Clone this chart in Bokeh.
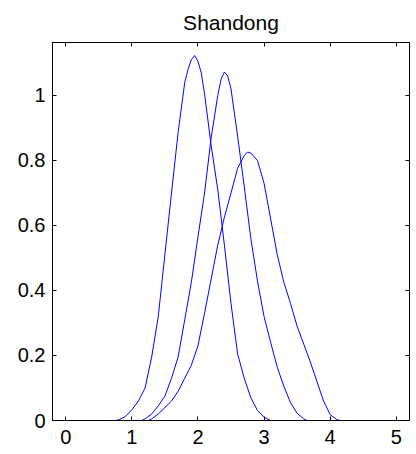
from bokeh.plotting import figure
from bokeh.models import LinearAxis, FixedTicker, Range1d
from bokeh.embed import file_html
from bokeh.resources import INLINE

# ---- data ----
title_text = "Shandong"

xa = [0.75, 0.8, 0.9, 1.0, 1.1, 1.2, 1.3, 1.4, 1.5, 1.6, 1.7, 1.8, 1.85, 1.9, 1.95,
      2.0, 2.05, 2.1, 2.2, 2.3, 2.4, 2.5, 2.6, 2.7, 2.8, 2.9, 3.0, 3.1]
ya = [0, 0.002, 0.012, 0.033, 0.06, 0.10, 0.195, 0.32, 0.51, 0.70, 0.886, 1.04, 1.08, 1.11, 1.123,
      1.105, 1.07, 1.005, 0.846, 0.71, 0.54, 0.36, 0.205, 0.13, 0.07, 0.031, 0.01, 0]

xb = [1.15, 1.2, 1.3, 1.4, 1.5, 1.6, 1.7, 1.8, 1.9, 2.0, 2.1, 2.2, 2.3, 2.35, 2.4, 2.45,
      2.5, 2.6, 2.7, 2.8, 2.9, 3.0, 3.1, 3.2, 3.3, 3.4, 3.5, 3.6, 3.65]
yb = [0, 0.005, 0.02, 0.045, 0.075, 0.13, 0.195, 0.31, 0.425, 0.565, 0.70, 0.87, 1.00, 1.05, 1.072, 1.06,
      1.02, 0.875, 0.72, 0.56, 0.43, 0.32, 0.24, 0.164, 0.105, 0.055, 0.022, 0.005, 0]

xc = [1.25, 1.3, 1.4, 1.5, 1.6, 1.7, 1.8, 1.9, 2.0, 2.1, 2.2, 2.3, 2.4, 2.5, 2.6, 2.7, 2.75,
      2.8, 2.9, 3.0, 3.1, 3.2, 3.3, 3.4, 3.5, 3.6, 3.7, 3.8, 3.9, 4.0, 4.1, 4.15]
yc = [0, 0.005, 0.02, 0.04, 0.06, 0.09, 0.13, 0.17, 0.23, 0.33, 0.435, 0.54, 0.625, 0.70, 0.776, 0.815, 0.826,
      0.823, 0.80, 0.73, 0.62, 0.51, 0.425, 0.36, 0.29, 0.235, 0.18, 0.12, 0.06, 0.018, 0.003, 0]

x_ticks = [0, 1, 2, 3, 4, 5]
x_tick_labels = ["0", "1", "2", "3", "4", "5"]
y_ticks = [0, 0.2, 0.4, 0.6, 0.8, 1]
y_tick_labels = ["0", "0.2", "0.4", "0.6", "0.8", "1"]

FONT = "Liberation Sans"
TICK_SIZE = "20px"

p = figure(width=416, height=454, output_backend="svg", toolbar_location=None,
           x_range=Range1d(-0.2, 5.2), y_range=Range1d(0, 1.163),
           min_border_left=52, min_border_right=7, min_border_top=42, min_border_bottom=34)

p.title.text = title_text
p.title.align = "center"
p.title.text_font = FONT
p.title.text_font_size = "21px"
p.title.text_font_style = "normal"
p.title.text_color = "black"
p.title.standoff = 17

p.xgrid.visible = False
p.ygrid.visible = False
p.outline_line_color = "black"
p.outline_line_width = 1
p.background_fill_color = "white"
p.border_fill_color = "white"

for xs, ys in [(xa, ya), (xb, yb), (xc, yc)]:
    p.line(xs, ys, line_color="#0000ff", line_width=1)

def style_axis(ax, ticks, labels, standoff=6, show_labels=True):
    ax.ticker = FixedTicker(ticks=ticks)
    ax.minor_tick_line_color = None
    ax.major_tick_in = 4
    ax.major_tick_out = 0
    ax.axis_line_color = "black"
    ax.major_tick_line_color = "black"
    if show_labels:
        ax.major_label_overrides = dict(zip(ticks, labels))
        ax.major_label_text_font = FONT
        ax.major_label_text_color = "black"
        ax.major_label_text_font_size = TICK_SIZE
        ax.major_label_standoff = standoff
    else:
        ax.major_label_text_color = None
        ax.major_label_text_font_size = "0px"
        ax.major_label_standoff = 0

style_axis(p.xaxis[0], x_ticks, x_tick_labels, standoff=9)
style_axis(p.yaxis[0], y_ticks, y_tick_labels, standoff=7)

top_axis = LinearAxis()
style_axis(top_axis, x_ticks, x_tick_labels, show_labels=False)
p.add_layout(top_axis, "above")

right_axis = LinearAxis()
style_axis(right_axis, y_ticks, y_tick_labels, show_labels=False)
p.add_layout(right_axis, "right")

open("out.html", "w").write(file_html(p, INLINE))
